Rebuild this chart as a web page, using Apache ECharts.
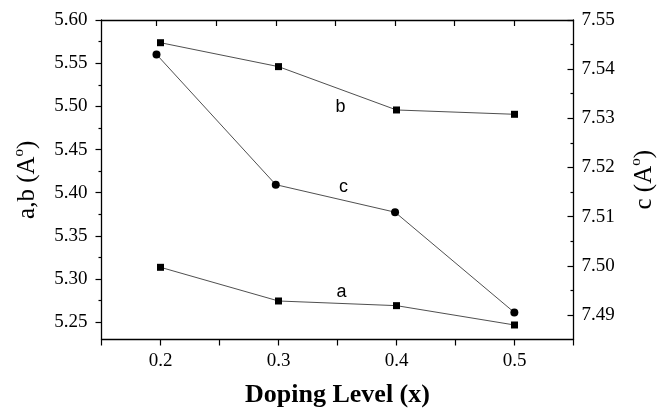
<!DOCTYPE html>
<html>
<head>
<meta charset="utf-8">
<script src="https://cdn.jsdelivr.net/npm/echarts@6/dist/echarts.min.js"></script>
<style>html,body{margin:0;padding:0;background:#fff;}#c{width:658px;height:411px;}</style>
</head>
<body>
<div id="c"></div>
<script>
// ---- data ----
var doping = [0.2, 0.3, 0.4, 0.5];
var latticeA = [5.3136, 5.2746, 5.2692, 5.2468];
var latticeB = [5.5737, 5.5460, 5.4958, 5.4908];
var latticeC = [7.5430, 7.5165, 7.5109, 7.4905];
var xTickLabels = [0.2, 0.3, 0.4, 0.5];
var xTicks = [0.15, 0.2, 0.25, 0.3, 0.35, 0.4, 0.45, 0.5, 0.55];
var topTicks = [0.2, 0.25, 0.3, 0.35, 0.4, 0.45, 0.5];
var abMajor = [5.25, 5.30, 5.35, 5.40, 5.45, 5.50, 5.55, 5.60];
var abMinor = [5.275, 5.325, 5.375, 5.425, 5.475, 5.525, 5.575];
var cMajor = [7.49, 7.50, 7.51, 7.52, 7.53, 7.54, 7.55];
var cMinor = [7.495, 7.505, 7.515, 7.525, 7.535, 7.545];
// series annotation labels [x, y]
var labelA = [0.3535, 5.2854];
var labelB = [0.3526, 5.4993];
var labelC = [0.3568, 7.5161];

var SERIF = "'Liberation Serif','Times New Roman',serif";
var SANS = "'Liberation Sans',Arial,sans-serif";
var AB_MIN = 5.23, AB_MAX = 5.60, C_MIN = 7.485, C_MAX = 7.55;

var chart = echarts.init(document.getElementById('c'));
var lineStyle = {color: '#222', width: 0.8};
var axLine = {show: true, lineStyle: {color: '#000', width: 1.3}};
function seriesLabel(pt, text) {
  return {
    symbol: 'rect', symbolSize: 0, silent: true,
    label: {show: true, position: 'inside', formatter: text, color: '#000', fontFamily: SANS, fontSize: 18},
    data: [{coord: pt}]
  };
}
var nameRich = {
  n: {fontFamily: SERIF, fontSize: 25, color: '#000', lineHeight: 28, verticalAlign: 'bottom'},
  s: {fontFamily: SERIF, fontSize: 15, color: '#000', lineHeight: 28, verticalAlign: 'top', padding: [0, 0, 12, 0]}
};
chart.setOption({
  animation: false,
  grid: {left: 101.5, right: 84.5, top: 20, bottom: 71.5, containLabel: false, outerBoundsMode: 'none'},
  xAxis: [
    {type: 'value', position: 'bottom', min: 0.15, max: 0.55,
     axisLine: axLine, splitLine: {show: false},
     axisTick: {show: true, inside: false, length: 6, customValues: xTicks, lineStyle: {color: '#000', width: 1.2}},
     axisLabel: {customValues: xTickLabels, margin: 12, color: '#000', fontFamily: SERIF, fontSize: 19,
                 formatter: function (v) { return v.toFixed(1); }},
     name: 'Doping Level (x)', nameLocation: 'middle', nameGap: 43,
     nameTextStyle: {fontFamily: SERIF, fontWeight: 'bold', fontSize: 26, color: '#000'}},
    {type: 'value', position: 'top', min: 0.1539, max: 0.5496,
     axisLine: axLine, splitLine: {show: false},
     axisTick: {show: true, inside: true, length: 6, customValues: topTicks, lineStyle: {color: '#000', width: 1.2}},
     axisLabel: {show: false}}
  ],
  yAxis: [
    {type: 'value', position: 'left', min: AB_MIN, max: AB_MAX,
     axisLine: axLine, splitLine: {show: false},
     axisTick: {show: true, inside: false, length: 6, customValues: abMajor, lineStyle: {color: '#000', width: 1.2}},
     axisLabel: {customValues: abMajor, margin: 14, color: '#000', fontFamily: SERIF, fontSize: 19,
                 formatter: function (v) { return v.toFixed(2); }},
     name: '{n|a,b (A}{s|o}{n|)}', nameLocation: 'middle', nameGap: 62, nameRotate: 90,
     nameTextStyle: {color: '#000', rich: nameRich}},
    {type: 'value', position: 'right', min: C_MIN, max: C_MAX,
     axisLine: axLine, splitLine: {show: false},
     axisTick: {show: true, inside: true, length: 6, customValues: cMajor, lineStyle: {color: '#000', width: 1.2}},
     axisLabel: {customValues: cMajor, margin: 8, color: '#000', fontFamily: SERIF, fontSize: 19,
                 formatter: function (v) { return v.toFixed(2); }},
     name: '{n|c (A}{s|o}{n|)}', nameLocation: 'middle', nameGap: 55, nameRotate: 90,
     nameTextStyle: {color: '#000', rich: nameRich}},
    {type: 'value', position: 'left', min: AB_MIN, max: AB_MAX,
     axisLine: {show: false}, splitLine: {show: false}, axisLabel: {show: false},
     axisTick: {show: true, inside: false, length: 3, customValues: abMinor, lineStyle: {color: '#000', width: 1.2}}},
    {type: 'value', position: 'right', min: C_MIN, max: C_MAX,
     axisLine: {show: false}, splitLine: {show: false}, axisLabel: {show: false},
     axisTick: {show: true, inside: true, length: 3, customValues: cMinor, lineStyle: {color: '#000', width: 1.2}}}
  ],
  series: [
    {type: 'line', name: 'a', xAxisIndex: 0, yAxisIndex: 0,
     data: doping.map(function (x, i) { return [x, latticeA[i]]; }),
     symbol: 'rect', symbolSize: 7, itemStyle: {color: '#000'}, lineStyle: lineStyle,
     markPoint: seriesLabel(labelA, 'a')},
    {type: 'line', name: 'b', xAxisIndex: 0, yAxisIndex: 0,
     data: doping.map(function (x, i) { return [x, latticeB[i]]; }),
     symbol: 'rect', symbolSize: 7, itemStyle: {color: '#000'}, lineStyle: lineStyle,
     markPoint: seriesLabel(labelB, 'b')},
    {type: 'line', name: 'c', xAxisIndex: 1, yAxisIndex: 1,
     data: doping.map(function (x, i) { return [x, latticeC[i]]; }),
     symbol: 'circle', symbolSize: 8, itemStyle: {color: '#000'}, lineStyle: lineStyle,
     markPoint: seriesLabel(labelC, 'c')}
  ]
});
</script>
</body>
</html>
